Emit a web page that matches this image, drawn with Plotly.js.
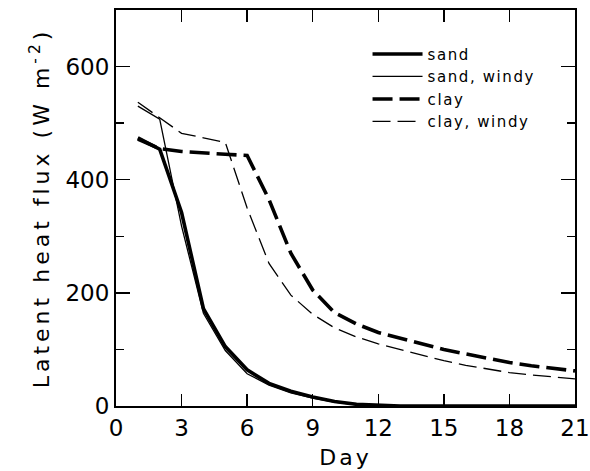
<!DOCTYPE html>
<html>
<head>
<meta charset="utf-8">
<script src="https://cdn.plot.ly/plotly-3.0.1.min.js"></script>
<style>
body{margin:0;padding:0;background:#fff;}
#chart{width:590px;height:471px;}
.ytitle{letter-spacing:4px;}
.xtitle{letter-spacing:3px;}
.legendtext{letter-spacing:1.6px;}
</style>
</head>
<body>
<div id="chart"></div>
<script>
var days = [1,2,3,4,5,6,7,8,9,10,11,12,13,14,15,16,17,18,19,20,21];
var sand      = [474,454,342,172,105,64,40,26,16,8,3,1,0,0,0,0,0,0,0,0,0];
var sandWindy = [530,507,318,164,98,57,37,23,14,7,2,0,0,0,0,0,0,0,0,0,0];
var clay      = [472,455,450,447,445,443,365,270,205,165,145,130,120,110,100,92,84,77,71,66,62];
var clayWindy = [537,510,482,474,466,350,252,196,162,138,122,110,100,90,80,72,65,59,55,51,48];
var seriesNames = ["sand","sand, windy","clay","clay, windy"];
var xTicks = [0,3,6,9,12,15,18,21];
var yTicks = [0,200,400,600];

var traces = [
  {x:days, y:sand, name:seriesNames[0], mode:'lines', line:{color:'#000', width:3.6}},
  {x:days, y:sandWindy, name:seriesNames[1], mode:'lines', line:{color:'#000', width:1.3}},
  {x:days, y:clay, name:seriesNames[2], mode:'lines', line:{color:'#000', width:3.6, dash:'20px,7px'}},
  {x:days, y:clayWindy, name:seriesNames[3], mode:'lines', line:{color:'#000', width:1.3, dash:'18px,7px'}}
];

var fontFam = 'DejaVu Sans, Liberation Sans, sans-serif';
var layout = {
  width:590, height:471,
  margin:{l:116, r:15, t:10, b:65},
  paper_bgcolor:'#fff', plot_bgcolor:'#fff',
  font:{family:fontFam, color:'#000', size:20},
  showlegend:true,
  legend:{x:0.548, y:0.93, xanchor:'left', yanchor:'top', bgcolor:'rgba(0,0,0,0)',
          font:{size:15, family:fontFam}, itemwidth:50, tracegroupgap:0},
  xaxis:{
    range:[0,21], tickmode:'array', tickvals:xTicks, ticktext:xTicks.map(String),
    ticks:'inside', ticklen:12, tickwidth:1.5, tickcolor:'#000',
    showline:true, linecolor:'#000', linewidth:2, mirror:'ticks',
    showgrid:false, zeroline:false,
    tickfont:{size:23},
    title:{text:'Day', font:{size:22}, standoff:10}
  },
  yaxis:{
    range:[0,700], tickmode:'array', tickvals:yTicks, ticktext:yTicks.map(String),
    ticks:'inside', ticklen:14, tickwidth:1.5, tickcolor:'#000',
    minor:{dtick:100, tick0:0, ticks:'inside', ticklen:8, tickwidth:1.5, tickcolor:'#000', showgrid:false},
    showline:true, linecolor:'#000', linewidth:2, mirror:'ticks',
    showgrid:false, zeroline:false,
    tickfont:{size:23},
    title:{text:'Latent heat flux (W m<sup>-2</sup>)', font:{size:22}, standoff:10}
  }
};
Plotly.newPlot('chart', traces, layout, {staticPlot:true, displayModeBar:false});
</script>
</body>
</html>
